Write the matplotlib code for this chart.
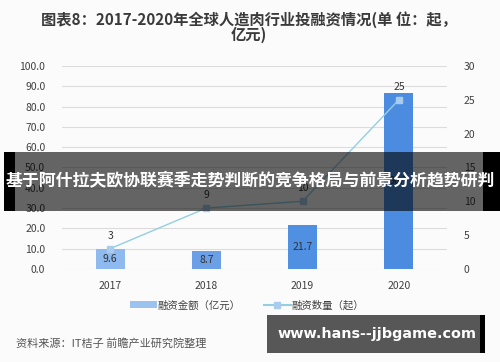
import matplotlib
matplotlib.use("Agg")
import matplotlib.pyplot as plt
from matplotlib.patches import Rectangle, Patch
from matplotlib.lines import Line2D
import numpy as np

plt.rcParams['font.family'] = ['Noto Sans CJK SC', 'DejaVu Sans']

years = ["2017", "2018", "2019", "2020"]
amount = [9.6, 8.7, 21.7, 86.7]       # 融资金额（亿元）
count = [3, 9, 10, 25]                 # 融资数量（起）
left_ticks = [0, 10, 20, 30, 40, 50, 60, 70, 80, 90, 100]
right_ticks = [0, 5, 10, 15, 20, 25, 30]
title = "图表8：2017-2020年全球人造肉行业投融资情况(单 位：起，\n亿元)"
banner_text = "基于阿什拉夫欧协联赛季走势判断的竞争格局与前景分析趋势研判"
source_text = "资料来源：IT桔子 前瞻产业研究院整理"
watermark = "www.hans--jjbgame.com"
legend_labels = ["融资金额（亿元）", "融资数量（起）"]

bar_colors = ["#8fbaf0", "#6b9fe6", "#5090e3", "#4b8ce0"]
line_color = "#93cfe2"
marker_color = "#a8cbee"
text_color = "#404040"

fig = plt.figure(figsize=(5, 3.62), dpi=100)
fig.patch.set_facecolor("#fbfbfb")
ax = fig.add_axes([0.124, 0.257, 0.77, 0.561])
ax.set_facecolor("none")
x = np.arange(len(years))
bars = ax.bar(x, amount, width=0.3, color=bar_colors, zorder=2)
ax.set_ylim(0, 100)
ax.set_xlim(-0.5, len(years) - 0.5)
ax.set_yticks(left_ticks)
ax.set_yticklabels([f"{v:.1f}" for v in left_ticks])
ax.set_xticks(x)
ax.set_xticklabels(years)
ax.grid(axis='y', color="#dcdcdc", linewidth=0.8, zorder=0)
ax.tick_params(axis='both', length=0, labelsize=7.5, colors=text_color)
ax.tick_params(axis='y', pad=12)
ax.tick_params(axis='x', pad=9)
for s in ax.spines.values():
    s.set_visible(False)
for xi, v in zip(x, amount):
    ax.text(xi, v / 2, f"{v}", ha='center', va='center', fontsize=7.5,
            color="#333333", zorder=3)

ax2 = ax.twinx()
ax2.plot(x, count, color=line_color, linewidth=1.0, marker='s', markersize=4,
         markerfacecolor=marker_color, markeredgecolor=marker_color, zorder=4)
ax2.set_ylim(0, 30)
ax2.set_yticks(right_ticks)
ax2.tick_params(axis='y', length=0, labelsize=7.5, colors=text_color, pad=12)
for s in ax2.spines.values():
    s.set_visible(False)
for xi, v in zip(x, count):
    ax2.text(xi, v + 1.2, f"{v}", ha='center', va='bottom', fontsize=7.5,
             color="#333333")

fig.text(0.498, 0.925, title, ha='center', va='center', fontsize=11,
         fontweight='bold', color="#3a3a3a", linespacing=0.95)

handles = [Patch(facecolor="#9cc2f0", edgecolor='none'),
           Line2D([0], [0], color=line_color, marker='s', markersize=4,
                  markerfacecolor=marker_color, markeredgecolor=marker_color)]
fig.legend(handles, legend_labels, loc='center', bbox_to_anchor=(0.494, 0.157),
           ncol=2, frameon=False, fontsize=7.5, handlelength=2.6,
           handleheight=0.6, handletextpad=0.1, columnspacing=2.2,
           labelcolor=text_color)

fig.text(0.032, 0.052, source_text, ha='left', va='center', fontsize=8,
         color="#555555")

# banner overlay
fig.add_artist(Rectangle((0.008, 0.417), 0.992, 0.163, transform=fig.transFigure,
                         facecolor='black', alpha=0.6, edgecolor='none', zorder=10))
fig.add_artist(Rectangle((0.008, 0.417), 0.022, 0.163, transform=fig.transFigure,
                         facecolor='black', edgecolor='none', zorder=10))
fig.add_artist(Rectangle((0.966, 0.417), 0.034, 0.163, transform=fig.transFigure,
                         facecolor='black', edgecolor='none', zorder=10))
fig.text(0.5, 0.50, banner_text, ha='center', va='center', fontsize=12.2,
         fontweight='bold', color='white', zorder=11)

# watermark box
fig.add_artist(Rectangle((0.534, 0.025), 0.426, 0.105, transform=fig.transFigure,
                         facecolor='#3a3a3a', alpha=0.85, edgecolor='none', zorder=10))
fig.add_artist(Rectangle((0.96, 0.025), 0.01, 0.105, transform=fig.transFigure,
                         facecolor='black', edgecolor='none', zorder=10))
fig.text(0.754, 0.077, watermark, ha='center', va='center', fontsize=10.4,
         fontweight='bold', color='white', family='DejaVu Sans', zorder=11)

fig.savefig("out.png", dpi=100, facecolor=fig.get_facecolor())
